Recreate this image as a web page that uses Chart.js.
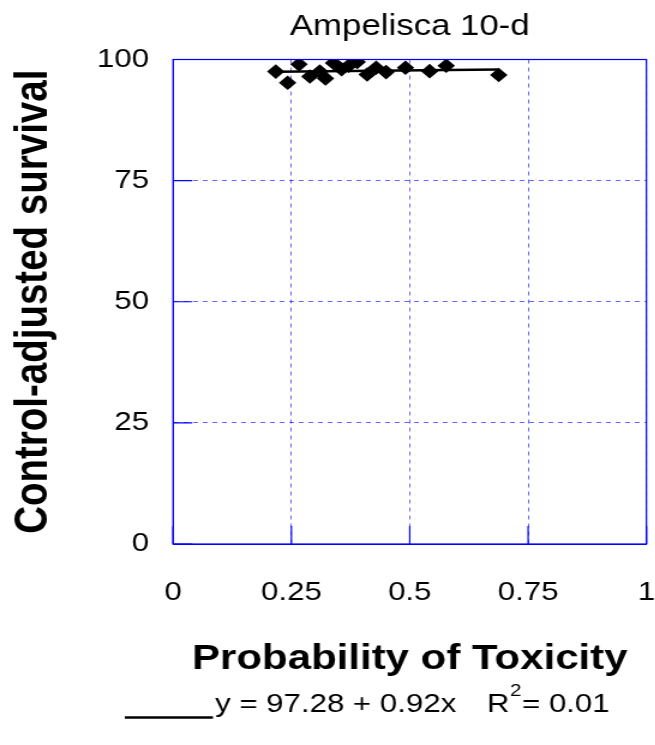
<!DOCTYPE html>
<html>
<head>
<meta charset="utf-8">
<title>Ampelisca 10-d</title>
<script src="https://cdn.jsdelivr.net/npm/chart.js@4/dist/chart.umd.min.js"></script>
<style>
  html, body { margin: 0; padding: 0; background: #ffffff; overflow: hidden; }
  /* The figure is drawn 546px wide and stretched horizontally to 655px. */
  #chart { position: absolute; left: 0; top: 0; width: 546px; height: 745px;
           transform: scaleX(1.2); transform-origin: 0 0; }
</style>
</head>
<body>
<canvas id="chart" width="546" height="745"></canvas>
<script>
// Observed samples: probability of toxicity vs control-adjusted survival (%)
const TOX_PROB = [0.217, 0.242, 0.266, 0.289, 0.310, 0.322, 0.339, 0.356, 0.371,
                  0.389, 0.410, 0.429, 0.450, 0.491, 0.542, 0.577, 0.688];
const SURVIVAL = [97.5, 95.2, 99.0, 96.5, 97.5, 96.1, 99.3, 98.0, 98.7,
                  99.5, 96.9, 98.3, 97.4, 98.3, 97.6, 98.7, 96.8];

// Linear fit reported in the legend
const INTERCEPT = 97.28;
const SLOPE = 0.92;
const R_SQUARED = 0.01;
const FIT_RANGE = [0.217, 0.688];

// Axis ticks
const X_TICKS = [0, 0.25, 0.5, 0.75, 1];
const Y_TICKS = [0, 25, 50, 75, 100];

const TITLE = 'Ampelisca 10-d';
const X_TITLE = 'Probability of Toxicity';
const Y_TITLE = 'Control-adjusted survival';

const FONT = '"Liberation Sans", Arial, Helvetica, sans-serif';
const AXIS_BLUE = '#0000ff';
const GRID_BLUE = 'rgba(0, 0, 255, 0.6)';

const points = TOX_PROB.map((x, i) => ({ x: x, y: SURVIVAL[i] }));
const fitLine = FIT_RANGE.map(x => ({ x: x, y: INTERCEPT + SLOPE * x }));

// Solid frame around the plot plus short inward tick marks on the left and bottom axes
const framePlugin = {
  id: 'frame',
  afterDatasetsDraw(chart) {
    const { ctx, chartArea: a, scales } = chart;
    ctx.save();
    ctx.strokeStyle = AXIS_BLUE;
    ctx.lineWidth = 1.2;
    ctx.setLineDash([]);
    ctx.strokeRect(a.left, a.top, a.right - a.left, a.bottom - a.top);
    ctx.beginPath();
    Y_TICKS.forEach(v => {
      const y = scales.y.getPixelForValue(v);
      ctx.moveTo(a.left, y);
      ctx.lineTo(a.left + 16, y);
    });
    X_TICKS.forEach(v => {
      const x = scales.x.getPixelForValue(v);
      ctx.moveTo(x, a.bottom);
      ctx.lineTo(x, a.bottom - 18);
    });
    ctx.stroke();
    ctx.restore();
  }
};

// Legend entry for the fitted line, with a superscript on R²
const fitLegendPlugin = {
  id: 'fitLegend',
  afterDraw(chart) {
    const ctx = chart.ctx;
    ctx.save();
    ctx.strokeStyle = '#000000';
    ctx.lineWidth = 2.5;
    ctx.setLineDash([]);
    ctx.beginPath();
    ctx.moveTo(104, 717.5);
    ctx.lineTo(177.5, 717.5);
    ctx.stroke();

    ctx.fillStyle = '#000000';
    ctx.textBaseline = 'alphabetic';
    const base = 712;
    ctx.font = '26px ' + FONT;
    ctx.textAlign = 'left';
    const eq = 'y = ' + INTERCEPT.toFixed(2) + ' + ' + SLOPE.toFixed(2) + 'x';
    ctx.fillText(eq, 179.2, base);

    // right part "R² = 0.01" laid out from its right end
    const tail = '= ' + R_SQUARED.toFixed(2);
    let x = 508 - ctx.measureText(tail).width;
    ctx.fillText(tail, x, base);
    ctx.font = '17px ' + FONT;
    x -= ctx.measureText('2').width + 0.5;
    ctx.fillText('2', x, base - 16);
    ctx.font = '26px ' + FONT;
    x -= ctx.measureText('R').width + 0.5;
    ctx.fillText('R', x, base);
    ctx.restore();
  }
};

new Chart(document.getElementById('chart'), {
  type: 'scatter',
  data: {
    datasets: [
      {
        label: 'Linear fit',
        data: fitLine,
        showLine: true,
        borderColor: '#000000',
        borderWidth: 2.5,
        pointRadius: 0,
        pointHoverRadius: 0,
        fill: false,
        order: 2
      },
      {
        label: 'Samples',
        data: points,
        pointStyle: 'rectRot',
        pointRadius: 7.3,
        pointHoverRadius: 7.3,
        backgroundColor: '#000000',
        borderColor: '#000000',
        borderWidth: 0,
        order: 1
      }
    ]
  },
  options: {
    responsive: false,
    maintainAspectRatio: false,
    devicePixelRatio: 1,
    animation: false,
    events: [],
    layout: { padding: { left: 0, right: 6.8, top: 0, bottom: 55 } },
    plugins: {
      legend: { display: false },
      tooltip: { enabled: false },
      title: {
        display: true,
        text: TITLE,
        fullSize: false,
        color: '#000000',
        font: { family: FONT, size: 29, weight: 'normal', lineHeight: 1.2 },
        padding: { top: 9.6, bottom: 15.1 }
      }
    },
    scales: {
      x: {
        type: 'linear',
        min: 0,
        max: 1,
        afterBuildTicks: s => { s.ticks = X_TICKS.map(v => ({ value: v })); },
        afterFit: s => { s.height = 146; s.paddingLeft = 0; s.paddingRight = 0; },
        ticks: {
          color: '#000000',
          padding: 33,
          maxRotation: 0,
          autoSkip: false,
          callback: v => String(v),
          font: { family: FONT, size: 26 }
        },
        grid: {
          color: GRID_BLUE,
          lineWidth: 1,
          drawTicks: false
        },
        border: { display: true, color: AXIS_BLUE, width: 1, dash: [4, 4] },
        title: {
          display: true,
          text: X_TITLE,
          color: '#000000',
          font: { family: FONT, size: 35, weight: 'bold', lineHeight: 1.2 },
          padding: { top: 0, bottom: 9.5 }
        }
      },
      y: {
        type: 'linear',
        min: 0,
        max: 100,
        afterBuildTicks: s => { s.ticks = Y_TICKS.map(v => ({ value: v })); },
        afterFit: s => { s.width = 144.2; },
        ticks: {
          color: '#000000',
          padding: 20,
          autoSkip: false,
          callback: v => String(v),
          font: { family: FONT, size: 26 }
        },
        grid: {
          color: GRID_BLUE,
          lineWidth: 1,
          drawTicks: false
        },
        border: { display: true, color: AXIS_BLUE, width: 1, dash: [4, 4] },
        title: {
          display: true,
          text: Y_TITLE,
          color: '#000000',
          font: { family: FONT, size: 38.5, weight: 'bold', lineHeight: 1.2 },
          padding: { top: 5, bottom: 0 }
        }
      }
    }
  },
  plugins: [framePlugin, fitLegendPlugin]
});
</script>
</body>
</html>
